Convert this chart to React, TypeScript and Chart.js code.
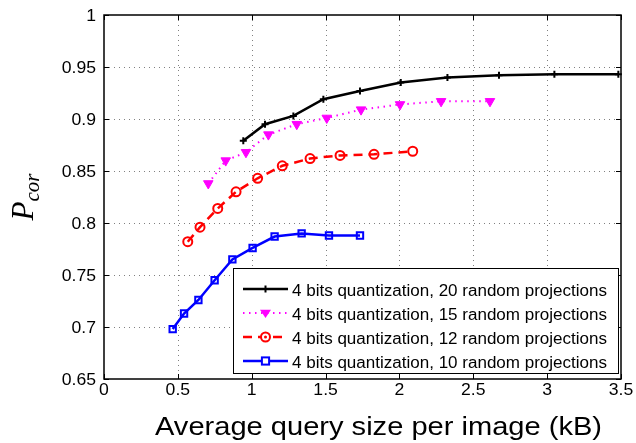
import React, { useEffect, useRef } from 'react';
import { Chart, registerables } from 'chart.js';
Chart.register(...registerables);

const xTicks = [0, 0.5, 1, 1.5, 2, 2.5, 3, 3.5];
const yTicks = [0.65, 0.7, 0.75, 0.8, 0.85, 0.9, 0.95, 1];

const xTitle = 'Average query size per image (kB)';
const seriesLabels = [
  '4 bits quantization, 20 random projections',
  '4 bits quantization, 15 random projections',
  '4 bits quantization, 12 random projections',
  '4 bits quantization, 10 random projections',
];

const x20 = [0.943, 1.09, 1.282, 1.485, 1.733, 2.009, 2.325, 2.674, 3.049, 3.482];
const y20 = [0.879, 0.895, 0.903, 0.919, 0.927, 0.935, 0.94, 0.942, 0.943, 0.943];

const x15 = [0.706, 0.824, 0.961, 1.113, 1.305, 1.508, 1.74, 2.004, 2.282, 2.613];
const y15 = [0.838, 0.86, 0.868, 0.885, 0.895, 0.901, 0.909, 0.914, 0.917, 0.917];

const x12 = [0.567, 0.65, 0.77, 0.894, 1.04, 1.207, 1.395, 1.598, 1.828, 2.09];
const y12 = [0.782, 0.796, 0.814, 0.83, 0.843, 0.855, 0.862, 0.865, 0.866, 0.869];

const x10 = [0.465, 0.542, 0.639, 0.749, 0.869, 1.006, 1.155, 1.338, 1.523, 1.733];
const y10 = [0.698, 0.713, 0.726, 0.745, 0.765, 0.776, 0.787, 0.79, 0.788, 0.788];

const SANS = '"Liberation Sans", Arial, Helvetica, sans-serif';
const SERIF = '"Liberation Serif", "Times New Roman", serif';

const pts = (xs: number[], ys: number[]) => xs.map((x, i) => ({ x, y: ys[i] }));

const styles = [
  { color: '#000000', width: 2.5, dash: [] as number[], point: 'cross', radius: 3.5, fill: '#000000', rot: 0, pw: 2 },
  { color: '#ff00ff', width: 2, dash: [1.5, 4.5], point: 'triangle', radius: 5.5, fill: '#ff00ff', rot: 180, pw: 1 },
  { color: '#ff0000', width: 2.5, dash: [9, 6], point: 'circle', radius: 4.5, fill: 'rgba(0,0,0,0)', rot: 0, pw: 2 },
  { color: '#0000ff', width: 2.5, dash: [] as number[], point: 'rect', radius: 4.5, fill: 'rgba(0,0,0,0)', rot: 0, pw: 2 },
];

function stretchText(ctx: any, text: string, x: number, y: number, size: number, sx: number, align: string) {
  ctx.save();
  ctx.font = `${size}px ${SANS}`;
  ctx.textAlign = align;
  ctx.textBaseline = 'alphabetic';
  ctx.fillStyle = '#000';
  ctx.translate(x, y);
  ctx.scale(sx, 1);
  ctx.fillText(text, 0, 0);
  ctx.restore();
}

function fitText(ctx: any, text: string, x: number, y: number, size: number, width: number, align: string) {
  ctx.save();
  ctx.font = `${size}px ${SANS}`;
  const w = ctx.measureText(text).width;
  ctx.restore();
  stretchText(ctx, text, x, y, size, width / w, align);
}

const framePlugin = {
  id: 'matlabFrame',
  beforeDatasetsDraw(chart: any) {
    const { ctx, chartArea: a, scales } = chart;
    ctx.save();
    ctx.strokeStyle = '#808080';
    ctx.lineWidth = 1;
    ctx.setLineDash([1, 4]);
    xTicks.forEach((v) => {
      const px = Math.round(scales.x.getPixelForValue(v)) + 0.5;
      if (px <= a.left + 1 || px >= a.right - 1) return;
      ctx.beginPath();
      ctx.moveTo(px, a.top);
      ctx.lineTo(px, a.bottom);
      ctx.stroke();
    });
    yTicks.forEach((v) => {
      const py = Math.round(scales.y.getPixelForValue(v)) + 0.5;
      if (py <= a.top + 1 || py >= a.bottom - 1) return;
      ctx.beginPath();
      ctx.moveTo(a.left, py);
      ctx.lineTo(a.right, py);
      ctx.stroke();
    });
    ctx.restore();
  },
  afterDraw(chart: any) {
    const { ctx, chartArea: a, scales } = chart;
    ctx.save();
    // frame
    ctx.strokeStyle = '#000';
    ctx.lineWidth = 1.5;
    ctx.setLineDash([]);
    ctx.strokeRect(a.left, a.top, a.right - a.left, a.bottom - a.top);
    // inward ticks
    ctx.lineWidth = 1;
    const tl = 5;
    xTicks.forEach((v) => {
      const px = Math.round(scales.x.getPixelForValue(v)) + 0.5;
      ctx.beginPath();
      ctx.moveTo(px, a.bottom);
      ctx.lineTo(px, a.bottom - tl);
      ctx.moveTo(px, a.top);
      ctx.lineTo(px, a.top + tl);
      ctx.stroke();
      stretchText(ctx, String(v), scales.x.getPixelForValue(v), a.bottom + 15.5, 16, 1.1, 'center');
    });
    yTicks.forEach((v) => {
      const py = Math.round(scales.y.getPixelForValue(v)) + 0.5;
      ctx.beginPath();
      ctx.moveTo(a.left, py);
      ctx.lineTo(a.left + tl, py);
      ctx.moveTo(a.right, py);
      ctx.lineTo(a.right - tl, py);
      ctx.stroke();
      stretchText(ctx, String(v), a.left - 8, scales.y.getPixelForValue(v) + 6, 16, 1.1, 'right');
    });

    // x title
    fitText(ctx, xTitle, 155, 435, 25.5, 447, 'left');

    // legend
    const lx = 233, ly = 268, lw = 385, lh = 105;
    ctx.fillStyle = '#fff';
    ctx.fillRect(lx, ly, lw, lh);
    ctx.strokeStyle = '#000';
    ctx.lineWidth = 1;
    ctx.strokeRect(lx + 0.5, ly + 0.5, lw, lh);
    seriesLabels.forEach((label, i) => {
      const s = styles[i];
      const y = 289 + i * 24;
      ctx.save();
      ctx.strokeStyle = s.color;
      ctx.lineWidth = s.width;
      ctx.setLineDash(s.dash);
      ctx.beginPath();
      ctx.moveTo(243, y);
      ctx.lineTo(288, y);
      ctx.stroke();
      ctx.setLineDash([]);
      ctx.restore();
      // marker
      ctx.save();
      ctx.strokeStyle = s.color;
      ctx.fillStyle = s.color;
      ctx.lineWidth = s.pw;
      const cx = 265.5;
      const r = s.radius;
      if (s.point === 'cross') {
        ctx.beginPath();
        ctx.moveTo(cx - r, y); ctx.lineTo(cx + r, y);
        ctx.moveTo(cx, y - r); ctx.lineTo(cx, y + r);
        ctx.stroke();
      } else if (s.point === 'triangle') {
        ctx.beginPath();
        ctx.moveTo(cx - r, y - r * 0.6);
        ctx.lineTo(cx + r, y - r * 0.6);
        ctx.lineTo(cx, y + r * 0.9);
        ctx.closePath();
        ctx.fill();
      } else if (s.point === 'circle') {
        ctx.beginPath();
        ctx.arc(cx, y, r, 0, Math.PI * 2);
        ctx.fillStyle = '#fff';
        ctx.fill();
        ctx.stroke();
        ctx.beginPath();
        ctx.arc(cx, y, 1.5, 0, Math.PI * 2);
        ctx.fillStyle = s.color;
        ctx.fill();
      } else {
        ctx.fillStyle = '#fff';
        ctx.fillRect(cx - r * 0.8, y - r * 0.8, r * 1.6, r * 1.6);
        ctx.strokeRect(cx - r * 0.8, y - r * 0.8, r * 1.6, r * 1.6);
      }
      ctx.restore();
      fitText(ctx, label, 292, y + 6.5, 16, 315, 'left');
    });

    // y axis title P_cor
    ctx.save();
    ctx.translate(33, (a.top + a.bottom) / 2);
    ctx.rotate(-Math.PI / 2);
    ctx.fillStyle = '#000';
    ctx.textBaseline = 'alphabetic';
    ctx.textAlign = 'left';
    ctx.font = `italic 31px ${SERIF}`;
    const wP = ctx.measureText('P').width;
    ctx.font = `italic 21px ${SERIF}`;
    const wS = ctx.measureText('cor').width;
    const start = -(wP + wS) / 2;
    ctx.font = `italic 31px ${SERIF}`;
    ctx.fillText('P', start, 0);
    ctx.font = `italic 21px ${SERIF}`;
    ctx.fillText('cor', start + wP, 6);
    ctx.restore();

    ctx.restore();
  },
};

export default function App() {
  const ref = useRef<HTMLCanvasElement>(null);
  useEffect(() => {
    if (!ref.current) return;
    const series = [pts(x20, y20), pts(x15, y15), pts(x12, y12), pts(x10, y10)];
    const chart = new Chart(ref.current, {
      type: 'scatter',
      data: {
        datasets: series.map((d, i) => ({
          label: seriesLabels[i],
          data: d,
          showLine: true,
          borderColor: styles[i].color,
          borderWidth: styles[i].width,
          borderDash: styles[i].dash,
          pointStyle: styles[i].point as any,
          pointRadius: styles[i].radius,
          pointRotation: styles[i].rot,
          pointBackgroundColor: styles[i].fill,
          pointBorderColor: styles[i].color,
          pointBorderWidth: styles[i].pw,
          tension: 0,
          clip: false as any,
        })),
      },
      options: {
        animation: false,
        responsive: false,
        events: [],
        layout: { padding: { top: 15, right: 15, left: 0, bottom: 0 } },
        plugins: { legend: { display: false }, tooltip: { enabled: false } },
        scales: {
          x: {
            type: 'linear',
            min: 0,
            max: 3.5,
            grid: { display: false, drawTicks: false },
            border: { display: false },
            afterBuildTicks: (s: any) => { s.ticks = xTicks.map((v) => ({ value: v })); },
            afterFit: (s: any) => { s.height = 64; },
            ticks: { display: false },
          },
          y: {
            type: 'linear',
            min: 0.65,
            max: 1,
            grid: { display: false, drawTicks: false },
            border: { display: false },
            afterBuildTicks: (s: any) => { s.ticks = yTicks.map((v) => ({ value: v })); },
            afterFit: (s: any) => { s.width = 104; },
            ticks: { display: false },
          },
        },
      },
      plugins: [framePlugin],
    } as any);
    return () => chart.destroy();
  }, []);
  return (
    <div style={{ position: 'absolute', left: 0, top: 0, width: 636, height: 443, background: '#fff' }}>
      <canvas ref={ref} width={636} height={443} style={{ display: 'block' }} />
    </div>
  );
}
